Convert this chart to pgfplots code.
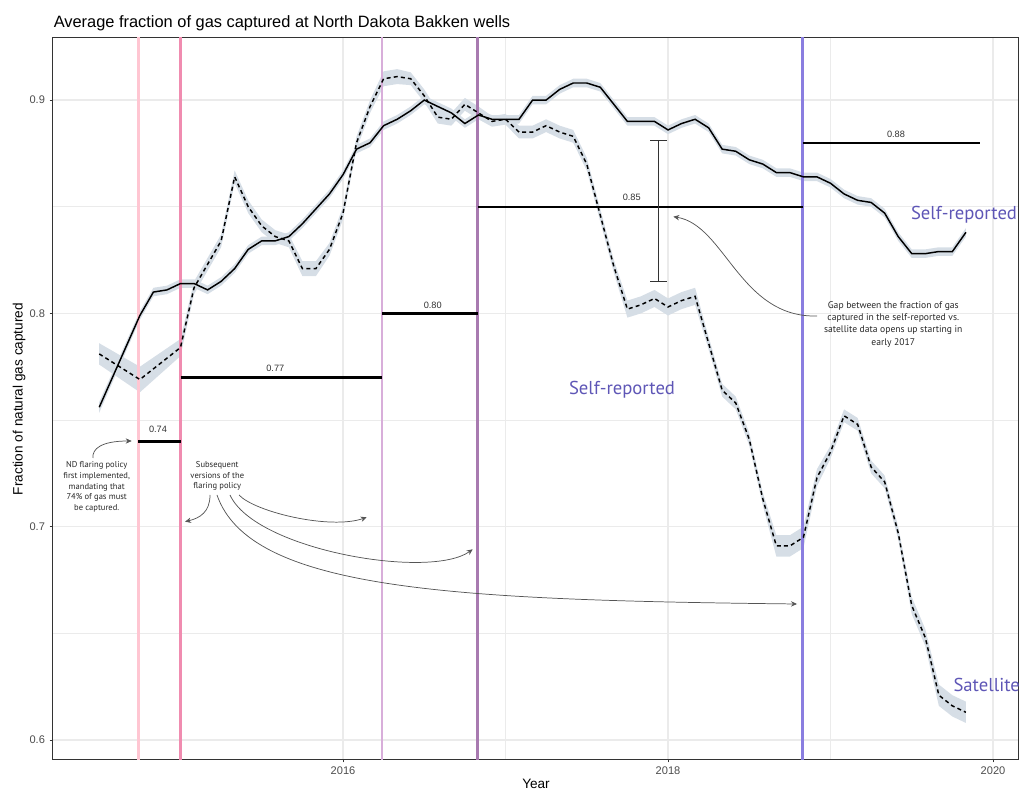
\documentclass[border=0pt]{standalone}
\usepackage{fontspec}
\setmainfont{Liberation Sans}
\newfontfamily\annfont{PT Sans}
\usepackage{pgfplots}
\usepackage{pgfplotstable}
\pgfplotsset{compat=1.18}
\usepgfplotslibrary{fillbetween}
\usetikzlibrary{arrows.meta}

\definecolor{pol1}{RGB}{255,198,210}
\definecolor{pol2}{RGB}{240,140,176}
\definecolor{pol3}{RGB}{216,174,218}
\definecolor{pol4}{RGB}{168,122,176}
\definecolor{pol5}{RGB}{138,126,224}
\definecolor{bandc}{RGB}{214,222,230}
\definecolor{lab}{RGB}{94,86,182}
\definecolor{ann}{RGB}{85,85,85}
\definecolor{gridc}{RGB}{235,235,235}

% self-reported: year, fraction captured, half-width of band
\pgfplotstableread{
x y e
2014.5000 0.756 0.0025
2014.7500 0.799 0.002
2014.8333 0.810 0.002
2014.9167 0.811 0.002
2015.0000 0.814 0.002
2015.0833 0.814 0.002
2015.1667 0.811 0.002
2015.2500 0.815 0.002
2015.3333 0.821 0.002
2015.4167 0.830 0.002
2015.5000 0.834 0.002
2015.5833 0.834 0.002
2015.6667 0.836 0.002
2015.7500 0.842 0.002
2015.8333 0.849 0.002
2015.9167 0.856 0.002
2016.0000 0.865 0.002
2016.0833 0.877 0.002
2016.1667 0.880 0.002
2016.2500 0.888 0.002
2016.3333 0.891 0.002
2016.4167 0.895 0.002
2016.5000 0.900 0.002
2016.5833 0.897 0.002
2016.6667 0.894 0.002
2016.7500 0.889 0.002
2016.8333 0.893 0.002
2016.9167 0.891 0.002
2017.0000 0.891 0.002
2017.0833 0.891 0.002
2017.1667 0.900 0.002
2017.2500 0.900 0.002
2017.3333 0.905 0.002
2017.4167 0.908 0.002
2017.5000 0.908 0.002
2017.5833 0.906 0.002
2017.6667 0.898 0.002
2017.7500 0.890 0.002
2017.8333 0.890 0.002
2017.9167 0.890 0.002
2018.0000 0.886 0.002
2018.0833 0.889 0.002
2018.1667 0.891 0.002
2018.2500 0.887 0.002
2018.3333 0.877 0.002
2018.4167 0.876 0.002
2018.5000 0.872 0.002
2018.5833 0.870 0.002
2018.6667 0.866 0.002
2018.7500 0.866 0.002
2018.8333 0.864 0.002
2018.9167 0.864 0.002
2019.0000 0.861 0.002
2019.0833 0.856 0.002
2019.1667 0.853 0.002
2019.2500 0.852 0.002
2019.3333 0.847 0.002
2019.4167 0.836 0.002
2019.5000 0.828 0.002
2019.5833 0.828 0.002
2019.6667 0.829 0.002
2019.7500 0.829 0.002
2019.8333 0.838 0.002
}\selfrep

% satellite: year, fraction captured, half-width of band
\pgfplotstableread{
x y e
2014.5000 0.781 0.005
2014.7500 0.769 0.006
2015.0000 0.784 0.004
2015.0833 0.812 0.003
2015.2500 0.834 0.003
2015.3333 0.864 0.003
2015.4167 0.850 0.003
2015.5000 0.841 0.003
2015.5833 0.836 0.003
2015.6667 0.834 0.003
2015.7500 0.821 0.0035
2015.8333 0.821 0.0035
2015.9167 0.830 0.003
2016.0000 0.847 0.003
2016.0833 0.880 0.003
2016.1667 0.897 0.003
2016.2500 0.910 0.0035
2016.3333 0.911 0.0035
2016.4167 0.910 0.003
2016.5000 0.902 0.003
2016.5833 0.892 0.003
2016.6667 0.891 0.003
2016.7500 0.898 0.003
2016.8333 0.894 0.003
2016.9167 0.890 0.0025
2017.0000 0.891 0.0025
2017.0833 0.885 0.003
2017.1667 0.885 0.003
2017.2500 0.888 0.003
2017.3333 0.885 0.003
2017.4167 0.883 0.003
2017.5000 0.870 0.003
2017.5833 0.846 0.003
2017.6667 0.822 0.003
2017.7500 0.802 0.004
2017.8333 0.804 0.004
2017.9167 0.807 0.004
2018.0000 0.803 0.004
2018.0833 0.806 0.004
2018.1667 0.808 0.004
2018.2500 0.786 0.003
2018.3333 0.764 0.003
2018.4167 0.758 0.003
2018.5000 0.741 0.003
2018.5833 0.713 0.003
2018.6667 0.691 0.005
2018.7500 0.691 0.005
2018.8333 0.695 0.005
2018.9167 0.723 0.004
2019.0000 0.735 0.003
2019.0833 0.752 0.003
2019.1667 0.748 0.003
2019.2500 0.728 0.003
2019.3333 0.721 0.003
2019.4167 0.697 0.003
2019.5000 0.663 0.004
2019.5833 0.648 0.004
2019.6667 0.621 0.005
2019.7500 0.616 0.005
2019.8333 0.613 0.005
}\satellite

\begin{document}
\begin{tikzpicture}
\begin{axis}[
  scale only axis, width=723.75pt, height=540.75pt,
  xmin=2014.2154, xmax=2020.1538, ymin=0.5911, ymax=0.9291,
  xtick={2016,2018,2020}, minor xtick={2015,2017,2019},
  ytick={0.6,0.7,0.8,0.9}, minor ytick={0.65,0.75,0.85},
  xtick pos=bottom, ytick pos=left,
  grid=both,
  major grid style={draw=gridc, line width=1.1pt},
  minor grid style={draw=gridc, line width=0.6pt},
  axis line style={draw=black!80, line width=0.75pt},
  tick align=outside, major tick length=2.5pt, minor tick length=0pt,
  tick style={draw=black!80, line width=0.7pt},
  /pgf/number format/assume math mode=true,
  xticklabel style={font=\fontsize{8.3}{10}\selectfont, text=black!70,
    /pgf/number format/1000 sep={}},
  yticklabel style={font=\fontsize{8.3}{10}\selectfont, text=black!70,
    /pgf/number format/.cd, fixed, fixed zerofill, precision=1},
]
% policy dates
\addplot[pol1, line width=2.2pt] coordinates {(2014.74,0.55) (2014.74,0.95)};
\addplot[pol2, line width=2.2pt] coordinates {(2015.0,0.55) (2015.0,0.95)};
\addplot[pol3, line width=2.2pt] coordinates {(2016.24,0.55) (2016.24,0.95)};
\addplot[pol4, line width=2.2pt] coordinates {(2016.83,0.55) (2016.83,0.95)};
\addplot[pol5, line width=2.2pt] coordinates {(2018.83,0.55) (2018.83,0.95)};

% uncertainty bands
\addplot[draw=none, name path=sU] table[x=x, y expr=\thisrow{y}+\thisrow{e}] {\satellite};
\addplot[draw=none, name path=sL] table[x=x, y expr=\thisrow{y}-\thisrow{e}] {\satellite};
\addplot[fill=bandc, draw=none] fill between[of=sU and sL];
\addplot[draw=none, name path=rU] table[x=x, y expr=\thisrow{y}+\thisrow{e}] {\selfrep};
\addplot[draw=none, name path=rL] table[x=x, y expr=\thisrow{y}-\thisrow{e}] {\selfrep};
\addplot[fill=bandc, draw=none] fill between[of=rU and rL];

% series
\addplot[black, line width=1.1pt, dash pattern=on 3pt off 2.4pt] table[x=x, y=y] {\satellite};
\addplot[black, line width=1.1pt] table[x=x, y=y] {\selfrep};

% capture targets
\addplot[black, line width=2pt] coordinates {(2014.74,0.74) (2015.0,0.74)};
\addplot[black, line width=2pt] coordinates {(2015.0,0.77) (2016.24,0.77)};
\addplot[black, line width=2pt] coordinates {(2016.24,0.80) (2016.83,0.80)};
\addplot[black, line width=1.5pt] coordinates {(2016.83,0.85) (2018.83,0.85)};
\addplot[black, line width=1.5pt] coordinates {(2018.83,0.88) (2019.92,0.88)};

% gap bracket
\addplot[black!80, line width=0.8pt] coordinates {(2017.943,0.8148) (2017.943,0.8809)};
\addplot[black!80, line width=0.8pt] coordinates {(2017.890,0.8809) (2017.996,0.8809)};
\addplot[black!80, line width=0.8pt] coordinates {(2017.890,0.8148) (2017.996,0.8148)};

\coordinate (P) at (rel axis cs:0,1);
\end{axis}

\begin{scope}[x=0.75pt, y=-0.75pt, shift={(P)}, shift={(-53,-38)}]
  \node[anchor=base west, inner sep=0, font=\fontsize{12.3}{14}\selectfont]
    at (53.5,27.6) {Average fraction of gas captured at North Dakota Bakken wells};
  \node[rotate=90, font=\fontsize{10.2}{12}\selectfont] at (19,399) {Fraction of natural gas captured};
  \node[font=\fontsize{10.2}{12}\selectfont] at (536,784) {Year};

  % target labels
  \begin{scope}[every node/.style={font=\fontsize{6.9}{8}\selectfont, text=black!80}]
    \node at (158,429) {0.74};
    \node at (275.3,368.3) {0.77};
    \node at (432.7,305.7) {0.80};
    \node at (631.7,197.7) {0.85};
    \node at (896,134.3) {0.88};
  \end{scope}

  % notes
  \node[align=center, text=black!85, font=\annfont\fontsize{6.4}{8.1}\selectfont]
    at (96.7,487) {ND flaring policy\\first implemented,\\mandating that\\74\% of gas must\\be captured.};
  \node[align=center, text=black!85, font=\annfont\fontsize{6.4}{8.1}\selectfont]
    at (217.3,476) {Subsequent\\versions of the\\flaring policy};
  \node[align=center, text=black!85, font=\annfont\fontsize{7.2}{9.1}\selectfont]
    at (893.3,324.4) {Gap between the fraction of gas\\captured in the self-reported vs.\\satellite data opens up starting in\\early 2017};

  \begin{scope}[ann, line width=0.55pt, -{Stealth[length=4.5pt, width=4pt]}]
    \draw (93,458) .. controls (92,449) and (101,441) .. (131.7,441);
    \draw (210,495) .. controls (210,512) and (200,518) .. (185,521.7);
    \draw (239,495) .. controls (255,512) and (330,530) .. (366.7,517.3);
    \draw (230,495) .. controls (255,550) and (430,580) .. (472.7,549.3);
    \draw (217,495) .. controls (250,590) and (450,600) .. (797,604);
    \draw (817,316) .. controls (740,318) and (725,225) .. (673.3,216.7);
  \end{scope}

  % series labels
  \begin{scope}[every node/.style={text=lab, font=\annfont\fontsize{14}{16}\selectfont}]
    \node at (964,215) {Self-reported};
    \node at (622,390) {Self-reported};
    \node at (986.7,685) {Satellite};
  \end{scope}

  \pgfresetboundingbox
  \path[use as bounding box] (0,0) rectangle (1021,793);
\end{scope}
\end{tikzpicture}
\end{document}
